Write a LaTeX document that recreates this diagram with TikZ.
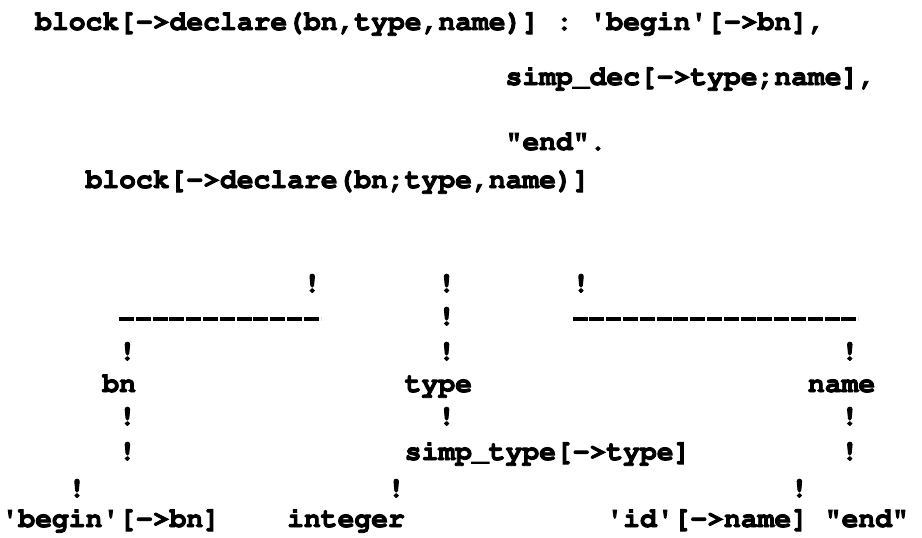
\documentclass[tikz,border=0pt]{standalone}
\usepackage[T1]{fontenc}
\usepackage{courier}
\usepackage{tikz}
\usetikzlibrary{calc}

% straight typewriter quote and heavier ink
\newcommand{\sq}{\textquotesingle}
\newcommand{\inked}[1]{\special{pdf:literal direct 2 Tr 0.9 w}#1\special{pdf:literal direct 0 Tr}}

\tikzset{
  tw/.style={font=\ttfamily\bfseries\fontsize{28}{28}\selectfont\frenchspacing, inner sep=0pt, anchor=base west},
  bang/.style={tw, anchor=base},
  typerule/.style={line width=3.5pt, dash pattern=on 15pt off 1.8pt}
}

\begin{document}
\begin{tikzpicture}[x=1pt,y=-1pt]
  % page frame (typewriter grid: 16.8 per column)
  \useasboundingbox (0,0) rectangle (922,538);

  % the rule
  \node[tw] (head) at ({1.4+16.8*2},30) {\inked{block[->declare(bn,type,name)] : \sq begin\sq[->bn],}};
  \node[tw] (simpdec) at ({1.4+16.8*30},85) {\inked{simp\_dec[->type;name],}};
  \node[tw] (endkw) at ({1.4+16.8*30},150) {\inked{"end".}};

  % root of the tree
  \node[tw] (root) at ({1.4+16.8*5},188) {\inked{block[->declare(bn;type,name)]}};

  % typed bars
  \foreach \c/\r [count=\i] in {18/292, 26/292, 34/292, 26/325,
      7/360, 26/360, 50/360, 7/425, 26/425, 50/425, 7/460, 50/460,
      4/497, 23/497, 47/497}
    \node[bang] (bar\i) at ({1.4+16.8*(\c+0.5)},\r) {\inked{!}};

  % typed underlines
  \coordinate (bnl) at ({1.4+16.8*7},319);
  \coordinate (bnr) at ({1.4+16.8*19},319);
  \coordinate (namel) at ({1.4+16.8*34},319);
  \coordinate (namer) at ({1.4+16.8*51},319);
  \draw[typerule] (bnl) -- (bnr);
  \draw[typerule] (namel) -- (namer);

  % attributes
  \node[tw] (bn) at ({1.4+16.8*6},392) {\inked{bn}};
  \node[tw] (type) at ({1.4+16.8*24},392) {\inked{type}};
  \node[tw] (name) at ({1.4+16.8*48},392) {\inked{name}};
  \node[tw] (simptype) at ({1.4+16.8*24},460) {\inked{simp\_type[->type]}};

  % leaves
  \node[tw] (begin) at ({1.4+16.8*0},527) {\inked{\sq begin\sq[->bn]}};
  \node[tw] (integer) at ({1.4+16.8*17},527) {\inked{integer}};
  \node[tw] (id) at ({1.4+16.8*36},527) {\inked{\sq id\sq[->name] "end"}};
\end{tikzpicture}
\end{document}
